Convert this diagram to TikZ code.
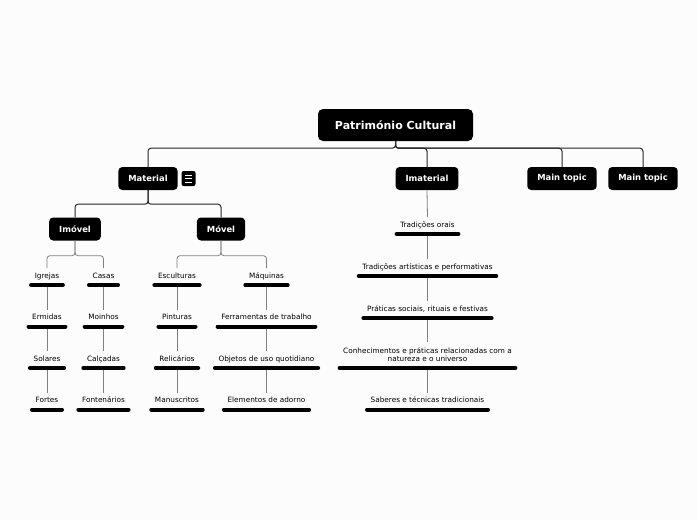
\documentclass[tikz,border=0pt]{standalone}
\usepackage{fontspec}
\setmainfont{DejaVu Sans}
\usetikzlibrary{positioning}

\tikzset{
  topic/.style={fill=black, text=white, font=\fontsize{8.4}{9}\selectfont\bfseries,
    rounded corners=4pt, minimum height=23pt, inner xsep=10pt},
  central/.style={topic, font=\fontsize{11}{12}\selectfont\bfseries,
    minimum height=32pt, minimum width=155pt, rounded corners=5pt},
  leaf/.style={font=\fontsize{7.3}{8}\selectfont, inner xsep=5.5pt, inner ysep=5pt,
    anchor=south, align=center, text depth=1.5pt},
  oneline/.style={leaf, text height=5pt},
  uline/.style={line width=4pt, line cap=round},
  conn/.style={draw=black!85, line width=1pt, rounded corners=3pt},
  subconn/.style={draw=black!50, line width=0.8pt, rounded corners=3pt},
  notes/.style={fill=black, rounded corners=2pt, minimum width=14pt, minimum height=15pt,
    inner sep=0pt},
}

\begin{document}
\begin{tikzpicture}[x=1pt, y=-1pt]

  % Background and page size
  \fill[white!99!black] (0,0) rectangle (697,520);
  \useasboundingbox (0,0) rectangle (697,520);

  % Central topic and main topics
  \node[central] (root) at (395.5,125) {Património Cultural};
  \node[topic] (material) at (148,178.5) {Material};
  \node[topic] (imaterial) at (427,178.5) {Imaterial};
  \node[topic] (main1) at (562,178.5) {Main topic};
  \node[topic] (main2) at (643,178.5) {Main topic};

  % Notes icon
  \node[notes, right=3.5pt of material] (matnotes) {};
  \foreach \k in {-3.5,0,3.5}
    \draw[white, line width=0.9pt] ([xshift=-3.5pt, yshift=\k pt]matnotes.center) -- ++(7,0);

  % Material subtopics
  \node[topic] (imovel) at (75,229) {Imóvel};
  \node[topic] (movel) at (221,229) {Móvel};

  % Leaves: Imovel
  \node[oneline] (igrejas) at (47,285) {Igrejas};
  \node[oneline] (ermidas) at (47,326.5) {Ermidas};
  \node[oneline] (solares) at (47,368) {Solares};
  \node[oneline] (fortes) at (47,409.5) {Fortes};
  \node[oneline] (casas) at (103.5,285) {Casas};
  \node[oneline] (moinhos) at (103.5,326.5) {Moinhos};
  \node[oneline] (calcadas) at (103.5,368) {Calçadas};
  \node[oneline] (fontenarios) at (103.5,409.5) {Fontenários};

  % Leaves: Movel
  \node[oneline] (esculturas) at (177,285) {Esculturas};
  \node[oneline] (pinturas) at (177,326.5) {Pinturas};
  \node[oneline] (relicarios) at (177,368) {Relicários};
  \node[oneline] (manuscritos) at (177,409.5) {Manuscritos};
  \node[oneline] (maquinas) at (266.5,285) {Máquinas};
  \node[oneline] (ferramentas) at (266.5,326.5) {Ferramentas de trabalho};
  \node[oneline] (objetos) at (266.5,368) {Objetos de uso quotidiano};
  \node[oneline] (elementos) at (266.5,409.5) {Elementos de adorno};

  % Leaves: Imaterial
  \node[oneline] (orais) at (427.5,234) {Tradições orais};
  \node[oneline] (artisticas) at (427.5,276) {Tradições artísticas e performativas};
  \node[oneline] (praticas) at (427.5,318) {Práticas sociais, rituais e festivas};
  \node[leaf] (conhecimentos) at (427.5,368) {Conhecimentos e práticas relacionadas com a\\natureza e o universo};
  \node[oneline] (saberes) at (427.5,409.5) {Saberes e técnicas tradicionais};

  % Connectors from the central topic
  \foreach \t in {material, imaterial, main1, main2}
    \draw[conn] (root.south) -- ++(0,7) -| (\t.north);

  % Connectors of Material
  \foreach \t in {imovel, movel}
    \draw[conn] (material.south) -- ++(0,14) -| (\t.north);
  \foreach \t in {igrejas, casas}
    \draw[subconn] (imovel.south) -- ++(0,15) -| (\t.north);
  \foreach \t in {esculturas, maquinas}
    \draw[subconn] (movel.south) -- ++(0,15) -| (\t.north);
  \draw[subconn] (imaterial.south) -- (orais.north);

  % Chains of leaves
  \foreach \a/\b in {igrejas/ermidas, ermidas/solares, solares/fortes,
      casas/moinhos, moinhos/calcadas, calcadas/fontenarios,
      esculturas/pinturas, pinturas/relicarios, relicarios/manuscritos,
      maquinas/ferramentas, ferramentas/objetos, objetos/elementos,
      orais/artisticas, artisticas/praticas, praticas/conhecimentos, conhecimentos/saberes}
    \draw[subconn] (\a.south) -- (\b.north);

  % Underlines of the leaves
  \foreach \n in {igrejas, ermidas, solares, fortes, casas, moinhos, calcadas, fontenarios,
      esculturas, pinturas, relicarios, manuscritos, maquinas, ferramentas, objetos, elementos,
      orais, artisticas, praticas, conhecimentos, saberes}
    \draw[uline] ([xshift=2pt]\n.south west) -- ([xshift=-2pt]\n.south east);

\end{tikzpicture}
\end{document}
